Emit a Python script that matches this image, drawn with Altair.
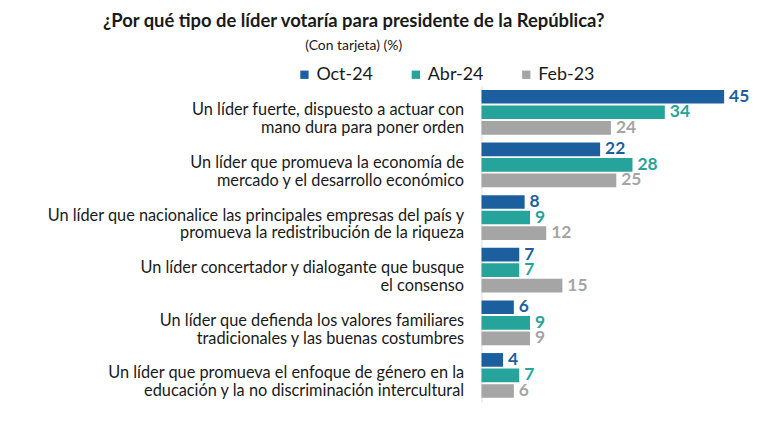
import altair as alt
import pandas as pd

categories = [
    "Un líder fuerte, dispuesto a actuar con|mano dura para poner orden",
    "Un líder que promueva la economía de|mercado y el desarrollo económico",
    "Un líder que nacionalice las principales empresas del país y|promueva la redistribución de la riqueza",
    "Un líder concertador y dialogante que busque|el consenso",
    "Un líder que defienda los valores familiares|tradicionales y las buenas costumbres",
    "Un líder que promueva el enfoque de género en la|educación y la no discriminación intercultural",
]
series = ["Oct-24", "Abr-24", "Feb-23"]
oct24 = [45, 22, 8, 7, 6, 4]
abr24 = [34, 28, 9, 7, 9, 7]
feb23 = [24, 25, 12, 15, 9, 6]
colors = ["#1c5f9f", "#26a39a", "#a5a5a5"]

rows = []
for s, vals in zip(series, [oct24, abr24, feb23]):
    for c, v in zip(categories, vals):
        rows.append({"cat": c, "serie": s, "valor": v})
df = pd.DataFrame(rows)

FONT = "Lato"

color_scale = alt.Scale(domain=series, range=colors)

base = alt.Chart(df).encode(
    y=alt.Y("cat:N", sort=categories, title=None,
            scale=alt.Scale(paddingInner=0.15, paddingOuter=0.08),
            axis=alt.Axis(labelExpr="split(datum.label, '|')", labelFontSize=16.4,
                          labelFont=FONT, labelColor="#1a1a1a", labelPadding=18,
                          ticks=False, domainColor="#dddddd", labelLimit=600,
                          labelLineHeight=18, labelOffset=-2)),
    yOffset=alt.YOffset("serie:N", sort=series, scale=alt.Scale(paddingInner=0.12)),
    x=alt.X("valor:Q", scale=alt.Scale(domain=[0, 50]), axis=None),
)

bars = base.mark_bar().encode(
    color=alt.Color("serie:N", scale=color_scale, sort=series,
                    legend=alt.Legend(title=None, orient="none", legendX=-187, legendY=-20,
                                      direction="horizontal", symbolType="square",
                                      symbolSize=70, labelFontSize=18, labelFont=FONT,
                                      labelColor="#1a1a1a", columnPadding=34,
                                      labelOffset=3, symbolStrokeWidth=0))
)

texts = base.mark_text(align="left", dx=5, fontWeight="bold", fontSize=17.5, font=FONT).encode(
    text="valor:Q",
    color=alt.Color("serie:N", scale=color_scale, sort=series, legend=None),
)

chart = alt.layer(bars, texts).properties(
    width=271, height=318,
    title=alt.Title(
        "¿Por qué tipo de líder votaría para presidente de la República?",
        subtitle="(Con tarjeta) (%)",
        anchor="middle", frame="group", dx=-264, offset=13,
        font=FONT, fontSize=18.5, fontWeight="bold", color="#1a1a1a",
        subtitleFont=FONT, subtitleFontSize=14, subtitleColor="#1a1a1a",
        subtitlePadding=8,
    ),
    autosize="none",
    padding={"left": 476, "top": 77, "right": 17, "bottom": 20},
).configure_view(stroke=None)

chart.save("out.html", embed_options={"renderer": "svg", "actions": False})
